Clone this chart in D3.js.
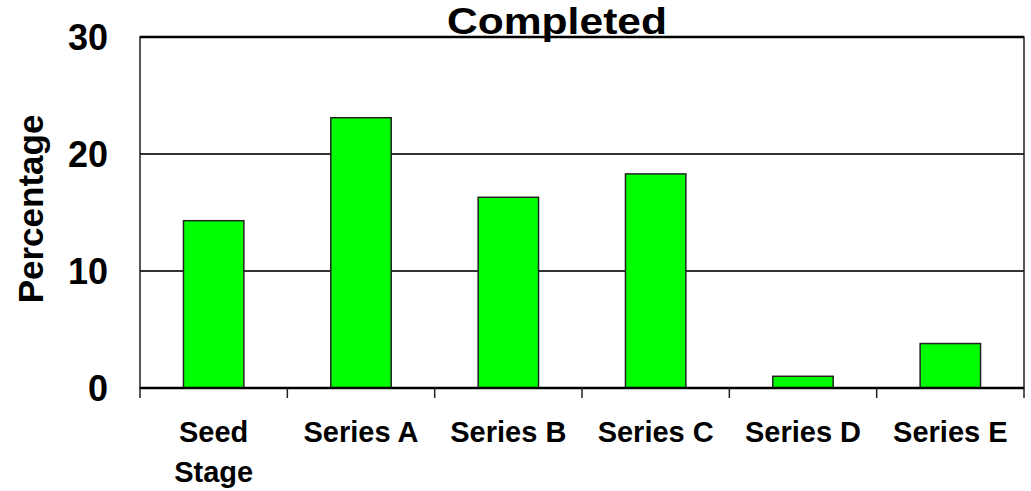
<!DOCTYPE html>
<html>
<head>
<meta charset="utf-8">
<script src="https://cdn.jsdelivr.net/npm/d3@7"></script>
<style>
  body { margin: 0; background: #fff; }
  text { font-family: "Liberation Sans", Arial, sans-serif; font-weight: bold; fill: #000; }
</style>
</head>
<body>
<div id="chart"></div>
<script>
const categories = [["Seed", "Stage"], ["Series A"], ["Series B"], ["Series C"], ["Series D"], ["Series E"]];
const values = [14.3, 23.1, 16.3, 18.3, 1.0, 3.8];
const yTicks = [0, 10, 20, 30];

const width = 1031, height = 491,
  margin = {top: 37, right: 7, bottom: 103, left: 140};

const svg = d3.select("#chart").append("svg")
  .attr("width", width).attr("height", height);

const names = categories.map(c => c.join(" "));

const xScale = d3.scaleBand()
  .domain(names)
  .range([margin.left, width - margin.right])
  .paddingInner(0.59)
  .paddingOuter(0.295);

const xOuter = d3.scaleBand()
  .domain(names)
  .range([margin.left, width - margin.right]);

const yScale = d3.scaleLinear()
  .domain([0, 30])
  .range([height - margin.bottom, margin.top]);

// gridlines
svg.append("g")
  .selectAll("line")
  .data(yTicks.filter(d => d > 0 && d < 30))
  .join("line")
  .attr("x1", margin.left).attr("x2", width - margin.right)
  .attr("y1", d => yScale(d)).attr("y2", d => yScale(d))
  .attr("stroke", "#333").attr("stroke-width", 2);

// frame
svg.append("rect")
  .attr("x", margin.left).attr("y", margin.top)
  .attr("width", width - margin.left - margin.right)
  .attr("height", height - margin.top - margin.bottom)
  .attr("fill", "none").attr("stroke", "#222").attr("stroke-width", 1.5);
svg.append("line")
  .attr("x1", margin.left).attr("x2", width - margin.right)
  .attr("y1", margin.top).attr("y2", margin.top)
  .attr("stroke", "#000").attr("stroke-width", 2.5);

// bars
svg.append("g")
  .selectAll("rect")
  .data(values)
  .join("rect")
  .attr("x", (d, i) => xScale(names[i]))
  .attr("width", xScale.bandwidth())
  .attr("y", d => yScale(d))
  .attr("height", d => yScale(0) - yScale(d))
  .attr("fill", "#00ff00")
  .attr("stroke", "#222").attr("stroke-width", 1.5);

// x axis
const xAxis = svg.append("g");
xAxis.append("line")
  .attr("x1", margin.left).attr("x2", width - margin.right)
  .attr("y1", yScale(0)).attr("y2", yScale(0))
  .attr("stroke", "#000").attr("stroke-width", 2.5);
xAxis.selectAll(".tick")
  .data(names.map(n => xOuter(n)).concat([width - margin.right]))
  .join("line")
  .attr("class", "tick")
  .attr("x1", d => d).attr("x2", d => d)
  .attr("y1", yScale(0)).attr("y2", yScale(0) + 10)
  .attr("stroke", "#222").attr("stroke-width", 1.5);

const lab = svg.append("g").selectAll("text")
  .data(categories)
  .join("text")
  .attr("text-anchor", "middle")
  .attr("font-size", 29)
  .attr("x", (d, i) => xScale(names[i]) + xScale.bandwidth() / 2)
  .attr("y", 442);
lab.selectAll("tspan")
  .data(d => d)
  .join("tspan")
  .attr("x", function() { return d3.select(this.parentNode).attr("x"); })
  .attr("dy", (d, i) => i === 0 ? 0 : 40)
  .text(d => d);

// y axis labels
svg.append("g").selectAll("text")
  .data(yTicks)
  .join("text")
  .attr("x", 108)
  .attr("y", d => yScale(d))
  .attr("dy", "0.36em")
  .attr("text-anchor", "end")
  .attr("font-size", 36)
  .text(d => d);

svg.append("text")
  .attr("transform", "translate(43,209) rotate(-90)")
  .attr("text-anchor", "middle")
  .attr("font-size", 35)
  .text("Percentage");

svg.append("text")
  .attr("x", 557).attr("y", 34)
  .attr("text-anchor", "middle")
  .attr("font-size", 37)
  .attr("textLength", 220)
  .attr("lengthAdjust", "spacingAndGlyphs")
  .text("Completed");
</script>
</body>
</html>
